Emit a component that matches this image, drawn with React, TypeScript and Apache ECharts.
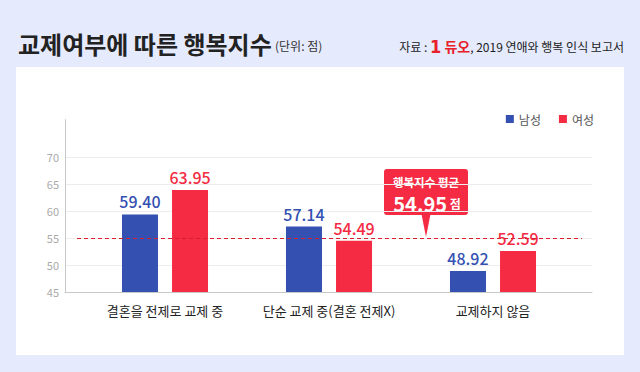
import React, { useEffect, useRef } from "react";
import * as echarts from "echarts";

const categories = ["결혼을 전제로 교제 중", "단순 교제 중(결혼 전제X)", "교제하지 않음"];
const maleValues = [59.4, 57.14, 48.92];
const femaleValues = [63.95, 54.49, 52.59];
const seriesNames = ["남성", "여성"];
const averageValue = 54.95;
const yMin = 45;
const yMax = 77;
const yInterval = 5;
const yLabelMax = 70;

const FONT = "'Noto Sans CJK KR', 'Noto Sans', sans-serif";
const BLUE = "#3451b2";
const RED = "#f42b43";

export default function App() {
  const ref = useRef<HTMLDivElement>(null);
  useEffect(() => {
    document.body.style.margin = "0";
    if (!ref.current) return;
    const chart = echarts.init(ref.current, null, { renderer: "svg" });
    const gridTop = 119.6;
    const gridBottom = 80;
    const valueLabel = (color: string) => ({
      show: true,
      position: "top",
      distance: 5,
      color,
      fontSize: 16,
      fontWeight: 500,
      fontFamily: FONT,
      formatter: (p: any) => p.value.toFixed(2),
    });
    const option: any = {
      animation: false,
      textStyle: { fontFamily: FONT },
      legend: {
        data: seriesNames,
        right: 41,
        top: 108,
        icon: "rect",
        itemWidth: 8,
        itemHeight: 8,
        itemGap: 18,
        textStyle: { color: "#555", fontSize: 12, fontFamily: FONT },
      },
      grid: [
        { left: 65, right: 48, top: gridTop, bottom: gridBottom },
        { left: 83, right: 65, top: gridTop, bottom: gridBottom },
      ],
      xAxis: [
        {
          type: "value",
          gridIndex: 0,
          min: 0,
          max: 1,
          axisLine: { show: true, lineStyle: { color: "#c8c8c8", width: 1 } },
          axisTick: { show: false },
          axisLabel: { show: false },
          splitLine: { show: false },
        },
        {
          type: "category",
          gridIndex: 1,
          data: categories,
          axisLine: { show: false },
          axisTick: { show: false },
          axisLabel: { color: "#222", fontSize: 13, margin: 12, interval: 0, fontFamily: FONT },
        },
      ],
      yAxis: [
        {
          type: "value",
          gridIndex: 0,
          min: yMin,
          max: yMax,
          interval: yInterval,
          axisLine: { show: true, lineStyle: { color: "#c8c8c8", width: 1 } },
          axisTick: { show: false },
          axisLabel: {
            color: "#aaa",
            fontSize: 11,
            margin: 6,
            fontFamily: FONT,
            formatter: (v: number) => (v <= yLabelMax ? String(v) : ""),
          },
          splitLine: {
            show: true,
            lineStyle: {
              color: ["#ececec", "#ececec", "#ececec", "#ececec", "#ececec", "#ececec", "rgba(0,0,0,0)", "rgba(0,0,0,0)"],
              width: 1,
            },
          },
        },
        {
          type: "value",
          gridIndex: 1,
          min: yMin,
          max: yMax,
          show: false,
          splitLine: { show: false },
        },
      ],
      series: [
        {
          name: seriesNames[0],
          type: "bar",
          xAxisIndex: 1,
          yAxisIndex: 1,
          data: maleValues,
          barWidth: 36,
          barGap: "39%",
          itemStyle: { color: BLUE },
          label: valueLabel(BLUE),
          markLine: {
            silent: true,
            symbol: "none",
            label: { show: false },
            lineStyle: { color: "#d9202f", type: [4, 3], width: 1 },
            data: [[{ x: 77, yAxis: averageValue }, { x: 582, yAxis: averageValue }]],
          },
        },
        {
          name: seriesNames[1],
          type: "bar",
          xAxisIndex: 1,
          yAxisIndex: 1,
          data: femaleValues,
          barWidth: 36,
          itemStyle: { color: RED },
          label: valueLabel(RED),
        },
      ],
      graphic: [
        { type: "rect", z: -10, shape: { x: 0, y: 0, width: 640, height: 372 }, style: { fill: "#e5eafd" } },
        { type: "rect", z: -9, shape: { x: 16, y: 67, width: 608, height: 288 }, style: { fill: "#ffffff" } },
        {
          type: "text",
          x: 18,
          y: 43,
          style: {
            text: "교제여부에 따른 행복지수",
            fontSize: 24,
            fontWeight: "bold",
            fill: "#222",
            fontFamily: FONT,
            verticalAlign: "middle",
          },
        },
        {
          type: "text",
          x: 275,
          y: 45,
          style: { text: "(단위: 점)", fontSize: 12, fill: "#333", fontFamily: FONT, verticalAlign: "middle" },
        },
        {
          type: "text",
          x: 624,
          y: 46,
          style: {
            text: "{a|자료 : }{b|1}{c| 듀오}{a|, 2019 연애와 행복 인식 보고서}",
            align: "right",
            verticalAlign: "middle",
            fontFamily: FONT,
            rich: {
              a: { fontSize: 12, fill: "#222", fontFamily: FONT },
              b: { fontSize: 18, fontWeight: "bold", fill: "#e8202a", fontFamily: "'DejaVu Sans Condensed', sans-serif" },
              c: { fontSize: 14, fontWeight: "bold", fill: "#e8202a", fontFamily: FONT },
            },
          },
        },
        {
          type: "group",
          z: 100,
          children: [
            { type: "rect", shape: { x: 384, y: 169, width: 84, height: 46, r: 3 }, style: { fill: RED } },
            { type: "polygon", shape: { points: [[421.5, 214], [430.5, 214], [426, 237]] }, style: { fill: RED } },
            {
              type: "text",
              x: 426,
              y: 181.5,
              style: {
                text: "행복지수 평균",
                fontSize: 11.5,
                fontWeight: "bold",
                fill: "#fff",
                align: "center",
                verticalAlign: "middle",
                fontFamily: FONT,
              },
            },
            {
              type: "text",
              x: 427,
              y: 203,
              style: {
                text: "{v|" + averageValue.toFixed(2) + "}{u| 점}",
                align: "center",
                verticalAlign: "middle",
                rich: {
                  v: { fontSize: 20, fontWeight: "bold", fill: "#fff", fontFamily: FONT, lineHeight: 22 },
                  u: { fontSize: 12, fontWeight: "bold", fill: "#fff", fontFamily: FONT, lineHeight: 22 },
                },
              },
            },
          ],
        },
      ],
    };
    chart.setOption(option);
    return () => chart.dispose();
  }, []);
  return <div ref={ref} style={{ width: 640, height: 372 }} />;
}
